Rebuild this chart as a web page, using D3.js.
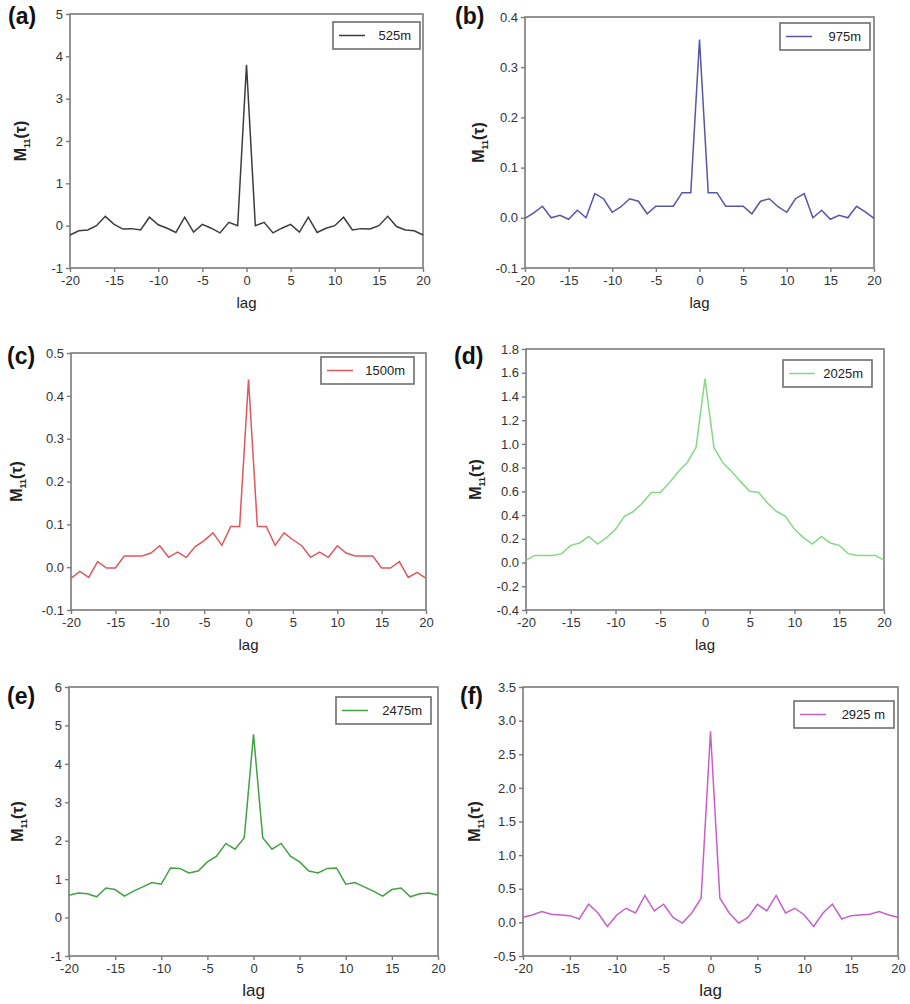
<!DOCTYPE html>
<html>
<head>
<meta charset="utf-8">
<script src="https://cdn.jsdelivr.net/npm/d3@7.9.0/dist/d3.min.js"></script>
<style>
  body { margin: 0; background: #fff; }
  svg { display: block; font-family: "Liberation Sans", Arial, sans-serif; }
  .tick text { fill: #333; }
</style>
</head>
<body>
<svg id="chart" width="910" height="1004"></svg>
<script>
// lags -20 .. 20
const lags = d3.range(-20, 21);

const panelLabels = ['(a)', '(b)', '(c)', '(d)', '(e)', '(f)'];
const seriesNames = ['525m', '975m', '1500m', '2025m', '2475m', '2925 m'];
const seriesColors = ['#3c3c3c', '#5656a8', '#e0575c', '#86d886', '#43a043', '#c85ec8'];

const m525 = [-0.22, -0.12, -0.1, 0.0, 0.22, 0.03, -0.08, -0.07, -0.1, 0.2, 0.02, -0.06, -0.16, 0.2, -0.15, 0.03, -0.06, -0.17, 0.08, 0.0,
  3.8,
  0.0, 0.08, -0.17, -0.06, 0.03, -0.15, 0.2, -0.16, -0.06, 0.0, 0.2, -0.1, -0.07, -0.08, 0.0, 0.22, -0.02, -0.1, -0.12, -0.22];
const m975 = [-0.001, 0.01, 0.023, 0.0, 0.005, -0.003, 0.015, 0.0, 0.048, 0.038, 0.011, 0.022, 0.038, 0.033, 0.008, 0.023, 0.023, 0.023, 0.05, 0.05,
  0.355,
  0.05, 0.05, 0.023, 0.023, 0.023, 0.008, 0.033, 0.038, 0.022, 0.011, 0.038, 0.048, 0.0, 0.015, -0.003, 0.005, 0.0, 0.023, 0.012, -0.001];
const m1500 = [-0.026, -0.01, -0.024, 0.013, -0.002, -0.002, 0.026, 0.026, 0.026, 0.033, 0.05, 0.023, 0.035, 0.023, 0.048, 0.062, 0.08, 0.051, 0.095, 0.095,
  0.438,
  0.095, 0.095, 0.051, 0.08, 0.064, 0.05, 0.023, 0.035, 0.023, 0.05, 0.033, 0.026, 0.026, 0.026, -0.002, -0.002, 0.013, -0.024, -0.012, -0.026];
const m2025 = [0.02, 0.06, 0.06, 0.06, 0.075, 0.145, 0.165, 0.22, 0.155, 0.21, 0.28, 0.39, 0.43, 0.5, 0.59, 0.59, 0.67, 0.765, 0.84, 0.97,
  1.55,
  0.97, 0.84, 0.765, 0.68, 0.6, 0.59, 0.5, 0.43, 0.39, 0.28, 0.21, 0.155, 0.22, 0.165, 0.145, 0.075, 0.06, 0.06, 0.06, 0.02];
const m2475 = [0.58, 0.64, 0.62, 0.54, 0.77, 0.73, 0.56, 0.69, 0.8, 0.91, 0.87, 1.29, 1.28, 1.16, 1.21, 1.45, 1.6, 1.93, 1.78, 2.08,
  4.77,
  2.08, 1.78, 1.93, 1.6, 1.45, 1.21, 1.16, 1.28, 1.29, 0.87, 0.91, 0.8, 0.69, 0.56, 0.73, 0.77, 0.54, 0.62, 0.64, 0.58];
const m2925 = [0.075, 0.11, 0.16, 0.12, 0.11, 0.1, 0.05, 0.27, 0.14, -0.06, 0.11, 0.21, 0.14, 0.4, 0.17, 0.27, 0.075, -0.01, 0.14, 0.36,
  2.84,
  0.36, 0.14, -0.01, 0.075, 0.27, 0.17, 0.4, 0.14, 0.21, 0.11, -0.06, 0.14, 0.27, 0.05, 0.1, 0.11, 0.12, 0.16, 0.11, 0.075];
const seriesValues = [m525, m975, m1500, m2025, m2475, m2925];

const yDomains = [[-1, 5], [-0.1, 0.4], [-0.1, 0.5], [-0.4, 1.8], [-1, 6], [-0.5, 3.5]];
const yTicks = [
  [-1, 0, 1, 2, 3, 4, 5],
  [-0.1, 0.0, 0.1, 0.2, 0.3, 0.4],
  [-0.1, 0.0, 0.1, 0.2, 0.3, 0.4, 0.5],
  [-0.4, -0.2, 0.0, 0.2, 0.4, 0.6, 0.8, 1.0, 1.2, 1.4, 1.6, 1.8],
  [-1, 0, 1, 2, 3, 4, 5, 6],
  [-0.5, 0.0, 0.5, 1.0, 1.5, 2.0, 2.5, 3.0, 3.5]
];
const yFormats = ['d', '.1f', '.1f', '.1f', 'd', '.1f'];
const xTicks = [-20, -15, -10, -5, 0, 5, 10, 15, 20];

// plain hyphen for negatives, like the original
const locale = d3.formatLocale({ decimal: '.', thousands: ',', grouping: [3], currency: ['', ''], minus: '-' });

// frame geometry of each panel in page pixels
const frames = [
  { l: 70, r: 423, t: 14, b: 268, lx: 8, ly: 16, yl: 20, leg: [333, 22, 87, 27] },
  { l: 525, r: 874, t: 17, b: 268, lx: 455, ly: 16, yl: 478, leg: [780, 23, 90, 27] },
  { l: 71, r: 426, t: 353, b: 610, lx: 7, ly: 356, yl: 16, leg: [321, 357, 93, 27] },
  { l: 526, r: 884, t: 349, b: 610, lx: 454, ly: 356, yl: 475, leg: [783, 360, 89, 27] },
  { l: 69, r: 438, t: 687, b: 956, lx: 7, ly: 696, yl: 17, leg: [336, 697, 95, 27] },
  { l: 523, r: 898, t: 687, b: 956, lx: 460, ly: 696, yl: 474, leg: [794, 701, 100, 27] }
];

const svg = d3.select('#chart');

frames.forEach((f, i) => {
  const x = d3.scaleLinear().domain([-20, 20]).range([f.l, f.r]);
  const y = d3.scaleLinear().domain(yDomains[i]).range([f.b, f.t]);
  const g = svg.append('g');

  // frame box
  g.append('rect')
    .attr('x', f.l).attr('y', f.t)
    .attr('width', f.r - f.l).attr('height', f.b - f.t)
    .attr('fill', 'none').attr('stroke', '#7a7a7a').attr('stroke-width', 1.6);

  // axes
  const xAxis = g.append('g')
    .attr('transform', `translate(0,${f.b})`)
    .call(d3.axisBottom(x).tickValues(xTicks).tickSize(4).tickPadding(4).tickFormat(locale.format('d')));
  const yAxis = g.append('g')
    .attr('transform', `translate(${f.l},0)`)
    .call(d3.axisLeft(y).tickValues(yTicks[i]).tickSize(4).tickPadding(3).tickFormat(locale.format(yFormats[i])));
  [xAxis, yAxis].forEach((a) => {
    a.select('.domain').remove();
    a.selectAll('.tick line').attr('stroke', '#7a7a7a').attr('stroke-width', 1.4);
    a.selectAll('.tick text').attr('font-size', 13);
  });

  // series line
  const line = d3.line()
    .x((d, k) => x(lags[k]))
    .y((d) => y(d));
  g.append('path')
    .datum(seriesValues[i])
    .attr('d', line)
    .attr('fill', 'none')
    .attr('stroke', seriesColors[i])
    .attr('stroke-width', 1.5)
    .attr('stroke-linejoin', 'miter');

  // legend
  const [bx, by, bw, bh] = f.leg;
  g.append('rect')
    .attr('x', bx).attr('y', by).attr('width', bw).attr('height', bh)
    .attr('fill', '#fff').attr('stroke', '#6e6e6e').attr('stroke-width', 1.6);
  g.append('line')
    .attr('x1', bx + 6).attr('x2', bx + 32)
    .attr('y1', by + bh / 2).attr('y2', by + bh / 2)
    .attr('stroke', seriesColors[i]).attr('stroke-width', 1.5);
  g.append('text')
    .attr('x', bx + bw - 9).attr('y', by + bh / 2 + 4.5)
    .attr('text-anchor', 'end')
    .attr('font-size', 13)
    .attr('fill', '#222')
    .text(seriesNames[i]);

  // panel label
  svg.append('text')
    .attr('x', f.lx).attr('y', f.ly + 8)
    .attr('font-size', 23).attr('font-weight', 'bold')
    .attr('fill', '#111')
    .text(panelLabels[i]);

  // x title
  svg.append('text')
    .attr('x', (f.l + f.r) / 2).attr('y', f.b + 40)
    .attr('text-anchor', 'middle')
    .attr('font-size', i >= 4 ? 17 : 15)
    .attr('fill', '#222')
    .text('lag');

  // y title M11(τ)
  const yt = svg.append('text')
    .attr('transform', `translate(${f.yl + 6},${(f.t + f.b) / 2}) rotate(-90)`)
    .attr('text-anchor', 'middle')
    .attr('font-size', 16)
    .attr('font-weight', 'bold')
    .attr('fill', '#222');
  yt.append('tspan').text('M');
  yt.append('tspan').attr('font-size', 9).attr('dy', 4).text('11');
  yt.append('tspan').attr('dy', -4).text('(τ)');
});
</script>
</body>
</html>
